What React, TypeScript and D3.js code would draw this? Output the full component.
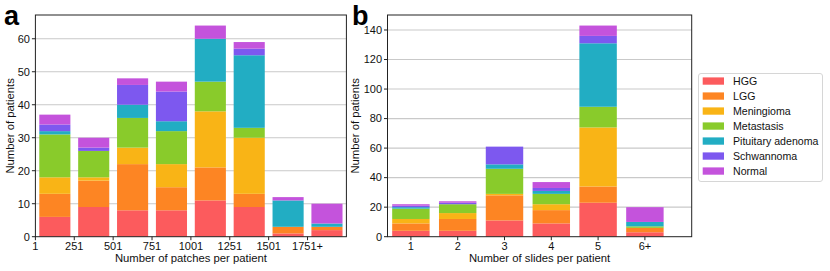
import React from "react";
import * as d3 from "d3";

const classes = ["HGG", "LGG", "Meningioma", "Metastasis", "Pituitary adenoma", "Schwannoma", "Normal"];
const colors = ["#fc5b5d", "#fd8523", "#f9b416", "#89cb2b", "#22adc3", "#7d58ef", "#c453dc"];

// Panel a: patches per patient bins
const patchBins = ["1", "251", "501", "751", "1001", "1251", "1501", "1751+"];
const patchHGG = [6, 9, 8, 8, 11, 9, 1, 2];
const patchLGG = [7, 8, 14, 7, 10, 4, 2, 1];
const patchMen = [5, 1, 5, 7, 17, 17, 0, 0];
const patchMet = [13, 8, 9, 10, 9, 3, 0, 0];
const patchPit = [1, 0, 4, 3, 13, 22, 8, 1];
const patchSch = [2, 1, 6, 9, 0, 2, 0, 0];
const patchNor = [3, 3, 2, 3, 4, 2, 1, 6];
const patchTicks = [0, 10, 20, 30, 40, 50, 60];

// Panel b: slides per patient
const slideCats = ["1", "2", "3", "4", "5", "6+"];
const slideHGG = [4, 4, 11, 9, 23, 3];
const slideLGG = [5, 8, 17, 9, 11, 3];
const slideMen = [3, 4, 1, 4, 40, 0];
const slideMet = [7, 6, 17, 7, 14, 1];
const slidePit = [1, 0, 3, 2, 43, 3];
const slideSch = [1, 1, 12, 2, 5, 0];
const slideNor = [1, 1, 0, 4, 7, 10];
const slideTicks = [0, 20, 40, 60, 80, 100, 120, 140];

const FONT = "'Liberation Sans', Arial, Helvetica, sans-serif";
const TOP = 15;
const BOTTOM = 236.7;

function stackRows(series: number[][], n: number) {
  const rows = d3.range(n).map((i) => {
    const o: Record<string, number> = {};
    classes.forEach((c, k) => (o[c] = series[k][i]));
    return o;
  });
  return d3.stack<Record<string, number>>().keys(classes)(rows);
}

export default function App() {
  // Panel a scales
  const ax0 = 35.4, ax1 = 346.4;
  const xa = d3.scaleLinear().domain([0, patchBins.length]).range([ax0, ax1]);
  const patchSeries = [patchHGG, patchLGG, patchMen, patchMet, patchPit, patchSch, patchNor];
  const totA = d3.range(patchBins.length).map((i) => d3.sum(patchSeries, (s) => s[i]));
  const ya = d3.scaleLinear().domain([0, (d3.max(totA) as number) * 1.05]).range([BOTTOM, TOP]);
  const stA = stackRows(patchSeries, patchBins.length);

  // Panel b scales
  const bx0 = 387.5, bx1 = 691.7;
  const xb = d3.scaleLinear().domain([-0.5, 6]).range([bx0, bx1]);
  const slideSeries = [slideHGG, slideLGG, slideMen, slideMet, slidePit, slideSch, slideNor];
  const totB = d3.range(slideCats.length).map((i) => d3.sum(slideSeries, (s) => s[i]));
  const yb = d3.scaleLinear().domain([0, (d3.max(totB) as number) * 1.05]).range([BOTTOM, TOP]);
  const stB = stackRows(slideSeries, slideCats.length);

  const grid = "#c9c9c9";
  const axisCol = "#222";

  return (
    <svg width={830} height={271} style={{ position: "absolute", left: 0, top: 0, fontFamily: FONT }}>
      <rect x={0} y={0} width={830} height={271} fill="white" />

      {/* ---------- Panel a ---------- */}
      {patchTicks.slice(1).map((t) => (
        <line key={"ga" + t} x1={ax0} x2={ax1} y1={ya(t)} y2={ya(t)} stroke={grid} strokeWidth={1.1} />
      ))}
      {stA.map((layer, k) =>
        layer.map((d, i) =>
          d[1] - d[0] > 0 ? (
            <rect
              key={"a" + k + "-" + i}
              x={xa(i + 0.1)}
              width={xa(i + 0.9) - xa(i + 0.1)}
              y={ya(d[1])}
              height={ya(d[0]) - ya(d[1])}
              fill={colors[k]}
            />
          ) : null
        )
      )}
      <rect x={ax0} y={TOP} width={ax1 - ax0} height={BOTTOM - TOP} fill="none" stroke={axisCol} strokeWidth={1} />
      {patchTicks.map((t) => (
        <g key={"ya" + t}>
          <line x1={ax0 - 3.5} x2={ax0} y1={ya(t)} y2={ya(t)} stroke={axisCol} />
          <text x={ax0 - 5.5} y={ya(t)} dy="0.35em" textAnchor="end" fontSize={11} fill="#111">
            {t}
          </text>
        </g>
      ))}
      {patchBins.map((lab, i) => (
        <g key={"xa" + i}>
          <line x1={xa(i)} x2={xa(i)} y1={BOTTOM} y2={BOTTOM + 3.5} stroke={axisCol} />
          <text x={xa(i)} y={250} textAnchor="middle" fontSize={11} fill="#111">
            {lab}
          </text>
        </g>
      ))}
      <text x={(ax0 + ax1) / 2} y={262} textAnchor="middle" fontSize={11.3} fill="#111">
        Number of patches per patient
      </text>
      <text transform={`translate(13.5,${(TOP + BOTTOM) / 2}) rotate(-90)`} textAnchor="middle" fontSize={11.3} fill="#111">
        Number of patients
      </text>
      <text x={4} y={25} fontSize={27} fontWeight="bold" fill="#000">a</text>

      {/* ---------- Panel b ---------- */}
      {slideTicks.slice(1).map((t) => (
        <line key={"gb" + t} x1={bx0} x2={bx1} y1={yb(t)} y2={yb(t)} stroke={grid} strokeWidth={1.1} />
      ))}
      {stB.map((layer, k) =>
        layer.map((d, i) =>
          d[1] - d[0] > 0 ? (
            <rect
              key={"b" + k + "-" + i}
              x={xb(i - 0.4)}
              width={xb(i + 0.4) - xb(i - 0.4)}
              y={yb(d[1])}
              height={yb(d[0]) - yb(d[1])}
              fill={colors[k]}
            />
          ) : null
        )
      )}
      <rect x={bx0} y={TOP} width={bx1 - bx0} height={BOTTOM - TOP} fill="none" stroke={axisCol} strokeWidth={1} />
      {slideTicks.map((t) => (
        <g key={"yb" + t}>
          <line x1={bx0 - 3.5} x2={bx0} y1={yb(t)} y2={yb(t)} stroke={axisCol} />
          <text x={bx0 - 5.5} y={yb(t)} dy="0.35em" textAnchor="end" fontSize={11} fill="#111">
            {t}
          </text>
        </g>
      ))}
      {slideCats.map((lab, i) => (
        <g key={"xb" + i}>
          <line x1={xb(i)} x2={xb(i)} y1={BOTTOM} y2={BOTTOM + 3.5} stroke={axisCol} />
          <text x={xb(i)} y={250} textAnchor="middle" fontSize={11} fill="#111">
            {lab}
          </text>
        </g>
      ))}
      <text x={(bx0 + bx1) / 2} y={262} textAnchor="middle" fontSize={11.3} fill="#111">
        Number of slides per patient
      </text>
      <text transform={`translate(359,${(TOP + BOTTOM) / 2}) rotate(-90)`} textAnchor="middle" fontSize={11.3} fill="#111">
        Number of patients
      </text>
      <text x={352} y={25} fontSize={27} fontWeight="bold" fill="#000">b</text>

      {/* ---------- Legend ---------- */}
      <rect x={698.5} y={73.5} width={124} height={108} rx={2.5} fill="white" stroke="#d6d6d6" strokeWidth={1} />
      {classes.map((c, k) => (
        <g key={"lg" + c}>
          <rect x={702.7} y={81 + k * 15 - 3.6} width={21.3} height={7.3} fill={colors[k]} />
          <text x={733} y={81 + k * 15} dy="0.35em" fontSize={10.6} fill="#111">
            {c}
          </text>
        </g>
      ))}
    </svg>
  );
}
